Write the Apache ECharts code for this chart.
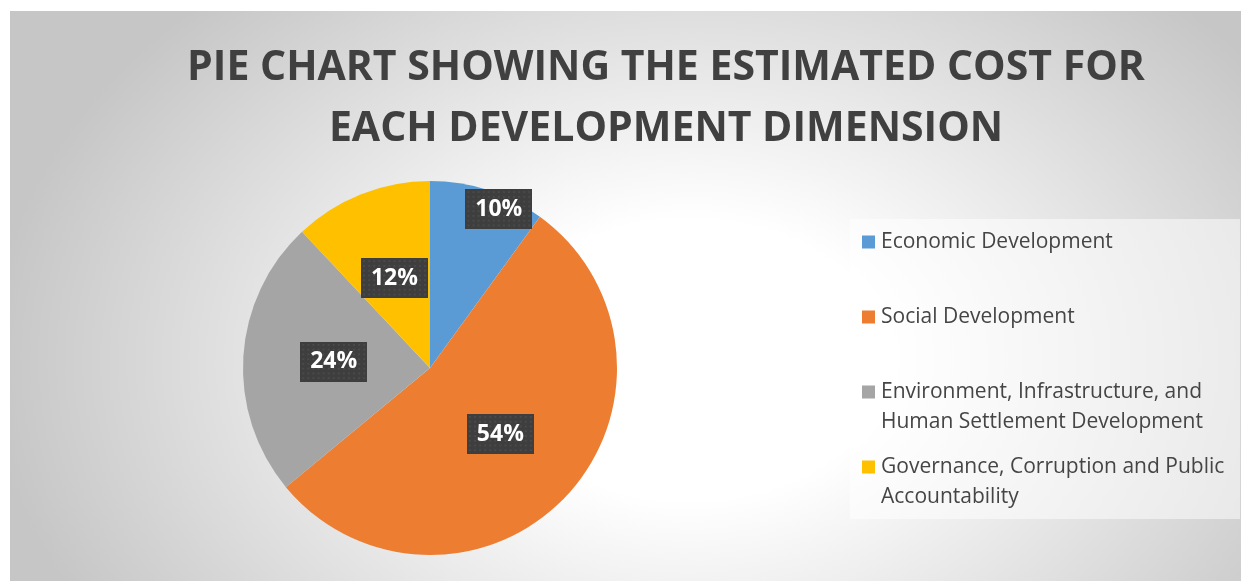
<!DOCTYPE html>
<html>
<head>
<meta charset="utf-8">
<script src="https://cdn.jsdelivr.net/npm/echarts@6/dist/echarts.min.js"></script>
<style>
  html, body { margin: 0; padding: 0; background: #ffffff; }
  #chart {
    position: absolute; left: 10px; top: 11px; width: 1231px; height: 570px;
    background: radial-gradient(ellipse 700px 500px at 680px 349px, #ffffff 0%, #ffffff 28%, #c6c6c6 100%);
  }
</style>
</head>
<body>
<div id="chart"></div>
<script>
const titleText = 'PIE CHART SHOWING THE ESTIMATED COST FOR\nEACH DEVELOPMENT DIMENSION';
const categories = [
  'Economic Development',
  'Social Development',
  'Environment, Infrastructure, and Human Settlement Development',
  'Governance, Corruption and Public Accountability'
];
const legendLines = [
  ['Economic Development'],
  ['Social Development'],
  ['Environment, Infrastructure, and', 'Human Settlement Development'],
  ['Governance, Corruption and Public', 'Accountability']
];
const values = [10, 54, 24, 12];
const colors = ['#5B9BD5', '#ED7D31', '#A5A5A5', '#FFC000'];

// dotted dark pattern for data label boxes
function makePattern() {
  const c = document.createElement('canvas');
  c.width = 66; c.height = 42;
  const g = c.getContext('2d');
  g.fillStyle = '#3e3e3e';
  g.fillRect(0, 0, 66, 42);
  g.fillStyle = '#4a4a4a';
  for (let y = 2; y < 42; y += 5) {
    for (let x = 2; x < 66; x += 5) {
      g.fillRect(x, y, 2, 2);
    }
  }
  return c;
}
const pattern = makePattern();

const rich = {
  gap: { width: 6 },
  sp: { width: 19 },
  t: { fontFamily: 'Open Sans', fontSize: 21, color: '#454545', lineHeight: 30, width: 345 }
};
colors.forEach((c, i) => {
  rich['sq' + i] = { width: 13, height: 13, backgroundColor: c, lineHeight: 30 };
});

const chart = echarts.init(document.getElementById('chart'), null, { renderer: 'canvas' });
chart.setOption({
  backgroundColor: 'transparent',
  color: colors,
  animation: false,
  title: {
    text: titleText,
    left: 656,
    textAlign: 'center',
    top: 27,
    padding: 0,
    textStyle: {
      fontFamily: 'Open Sans',
      fontWeight: 'bold',
      fontSize: 41,
      lineHeight: 61,
      color: '#404040'
    }
  },
  legend: {
    orient: 'vertical',
    left: 840,
    top: 208,
    padding: [8, 14, 7, 7],
    itemWidth: 0,
    itemHeight: 0,
    itemGap: 15,
    backgroundColor: 'rgba(255,255,255,0.5)',
    data: categories,
    formatter: function (name) {
      const i = categories.indexOf(name);
      const lines = legendLines[i];
      const first = '{sq' + i + '|}{gap|}{t|' + lines[0] + '}';
      const second = '{sp|}{t|' + (lines[1] || ' ') + '}';
      return first + '\n' + second;
    },
    textStyle: { rich: rich, lineHeight: 30 }
  },
  series: [{
    type: 'pie',
    center: [420, 357],
    radius: [0, 187],
    startAngle: 90,
    clockwise: true,
    avoidLabelOverlap: false,
    data: categories.map((n, i) => ({ name: n, value: values[i] })),
    label: {
      show: true,
      position: 'inside',
      formatter: '{d}%',
      fontFamily: 'Open Sans',
      fontWeight: 'bold',
      fontSize: 23,
      lineHeight: 26,
      color: '#ffffff',
      backgroundColor: { image: pattern },
      padding: [7, 10],
      shadowBlur: 6,
      shadowOffsetX: 3,
      shadowOffsetY: 3,
      shadowColor: 'rgba(0,0,0,0.45)'
    },
    labelLayout: function (p) {
      if (p.dataIndex === 0) return { dx: 39, dy: -67 };
      return {};
    },
    labelLine: { show: false },
    itemStyle: { borderWidth: 0 },
    emphasis: { disabled: true }
  }]
});
</script>
</body>
</html>
